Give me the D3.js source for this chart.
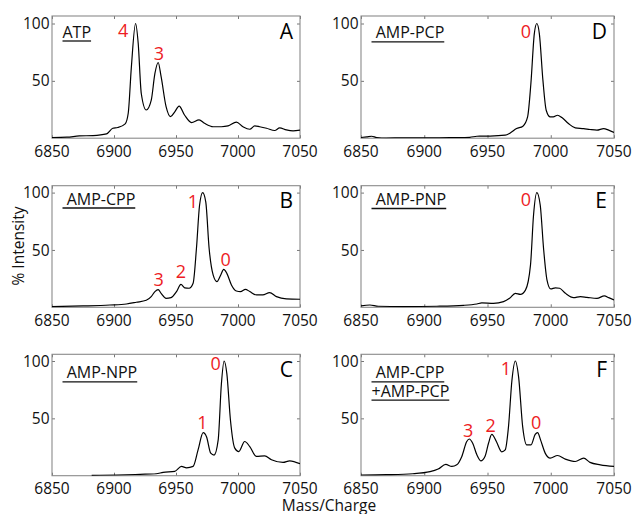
<!DOCTYPE html>
<html>
<head>
<meta charset="utf-8">
<script src="https://cdn.jsdelivr.net/npm/d3@7"></script>
<style>
  body { margin: 0; background: #fff; }
  svg { display: block; font-family: "Open Sans", sans-serif; }
</style>
</head>
<body>
<div id="chart"></div>
<script>
// spectra: [mass/charge, % intensity]
var atp = [[6850,0.6],[6862,0.9],[6872,2],[6883,2.3],[6894,3.8],[6899,8.7],[6903,9.3],[6909,12.5],[6911.5,22],
  [6914,62],[6917.4,100],[6919.5,83],[6922,39],[6926,24.6],[6930,33],[6933,56.5],[6935.6,66],[6938,53.6],[6942,27.5],
  [6945.6,18.8],[6949,23],[6952.5,28],[6957,20],[6962.5,13.6],[6968.6,16],[6973,13],[6980,10],[6986.6,10],[6992,10.7],
  [6998.7,14],[7004,10],[7009.5,7.8],[7013.5,10.7],[7017.5,10],[7023,8.7],[7029.6,6.7],[7033.6,9],[7039,7.2],[7044.4,6.4],[7050,7]];

var ampCPP = [[6850,0.6],[6875,1.2],[6896.7,2],[6910,2.9],[6918,4.4],[6926,6.1],[6930,9.3],[6933,13.7],[6935.6,15.4],
  [6938,12.2],[6942,7.8],[6946,8.4],[6950.4,13.7],[6954,20],[6957,17],[6960.6,16.6],[6963.8,21],[6966.5,51.5],[6969,89],
  [6971.5,100],[6974,92],[6976.7,51.5],[6980,28],[6983,22.4],[6986,28],[6988.5,33],[6991,29.6],[6994.7,19.5],[6998.7,14.2],
  [7002,13.7],[7006,15.7],[7009.5,13.7],[7015,10.8],[7020,10.8],[7025.5,12.8],[7031,9.3],[7039,7.3],[7050,7]];

var ampNPP = [[6882,0.3],[6902,0.6],[6921,1.2],[6934,1.7],[6939.6,2.9],[6949,3.8],[6954.4,8.1],[6958.5,6.9],[6963.8,8.1],
  [6967.8,22.5],[6971.9,37.6],[6974.6,34],[6978,19.7],[6980.7,18],[6984,31],[6986.6,80],[6988.8,100],[6991,89],[6993.9,48.6],
  [6997.4,24],[7000.6,21],[7005.4,29.8],[7009.5,25.4],[7014.8,16.8],[7021.5,17.3],[7027,13.9],[7036.3,11.6],[7041.7,13],[7050,10.4]];

var ampPCP = [[6850,0.6],[6854.5,1.2],[6858.4,1.7],[6862.4,0.6],[6870,0.1],[6883.5,0.3],[6896.7,0.3],[6910,0.3],[6923,0.5],
  [6936,0.8],[6941.6,1.7],[6952,1.8],[6964,2.6],[6968,4.6],[6973,8.4],[6978,10.5],[6981.7,18.6],[6984.3,47.7],[6987,91],
  [6989,100],[6991,91],[6993.8,50.6],[6996.4,24.4],[6999.6,18.6],[7002,18.6],[7005.4,20],[7008.8,18],[7014,12.8],[7019.4,9],
  [7026,8.4],[7031,7.6],[7036.5,7],[7041.8,8.4],[7045.8,7],[7050,5]];

var ampPNP = [[6850,1.2],[6857,2],[6863.7,0.9],[6883.5,0.6],[6910,0.9],[6931,1.7],[6941.6,2.9],[6945.5,3.8],[6954.7,3.5],
  [6962.7,5],[6967.4,7.8],[6972,12.2],[6976,11.3],[6980,15],[6984,37],[6986.4,80.5],[6989,100],[6991.7,89],[6994.3,51.5],
  [6997,24],[7000,16],[7003.6,17],[7007,16.6],[7011.6,12.2],[7018,8.4],[7023.4,9.3],[7028.6,8.7],[7036.5,7.8],[7042.4,10],
  [7045.8,8.4],[7050,6.4]];

var ampMix = [[6850,0.6],[6870,0.9],[6891,1.7],[6904.6,3.5],[6911,5.8],[6917,9.8],[6921.8,8.1],[6925.7,9.5],[6929.7,16.8],
  [6933.6,29.8],[6935.6,32],[6938.3,28.3],[6941.6,18.2],[6944.7,13],[6948,16.8],[6950.8,28.3],[6953.4,36],[6957,29.8],
  [6961.3,20.8],[6964,22.5],[6966.6,42.8],[6969.3,83],[6972,100],[6974.6,86],[6977.8,42.8],[6981,26.9],[6984.4,26.9],
  [6987.7,36],[6989.6,37.6],[6992,31],[6995.6,19.7],[6999.6,15.3],[7005.4,17.6],[7011.5,14.5],[7019.4,12.4],[7026,15.3],
  [7031,11.6],[7039.2,9.5],[7050,8.1]];

// red peak numbers: [text, mass, intensity at baseline]
var peaksA = [["4",6907.3,88],["3",6936.3,68]];
var peaksB = [["3",6936,18.9],["2",6954,25.3],["1",6963.7,87],["0",6990,36.3]];
var peaksC = [["1",6971.2,40.3],["0",6982,92]];
var peaksD = [["0",6980.4,87]];
var peaksE = [["0",6980.4,88]];
var peaksF = [["3",6934.8,34],["2",6952.5,38.3],["1",6964.6,87.6],["0",6988.5,40.3]];

var panelLetters = ["A","B","C","D","E","F"];
var panelTitles = [["ATP"],[" AMP-CPP"],[" AMP-NPP"],[" AMP-PCP"],[" AMP-PNP"],[" AMP-CPP","+AMP-PCP"]];
var xTicks = [6850, 6900, 6950, 7000, 7050];
var yTicks = [50, 100];

var W = 633, H = 514;
var svg = d3.select("#chart").append("svg").attr("width", W).attr("height", H);

var cols = [[52, 300], [361, 614]];
var rows = [[16, 138.2], [185.7, 307.3], [354.3, 475.7]];
var titleDy = [21.5, 18.8, 24, 22.3, 19.3, 24];

var panels = [
  {data: atp, peaks: peaksA, c: 0, r: 0},
  {data: ampCPP, peaks: peaksB, c: 0, r: 1},
  {data: ampNPP, peaks: peaksC, c: 0, r: 2},
  {data: ampPCP, peaks: peaksD, c: 1, r: 0},
  {data: ampPNP, peaks: peaksE, c: 1, r: 1},
  {data: ampMix, peaks: peaksF, c: 1, r: 2}
];

panels.forEach(function(p, i) {
  var x0 = cols[p.c][0], x1 = cols[p.c][1];
  var y0 = rows[p.r][0], y1 = rows[p.r][1];
  var pxPerUnit = 1.147;

  var x = d3.scaleLinear().domain([6850, 7050]).range([x0, x1]);
  var y = d3.scaleLinear().domain([0, (y1 - y0) / pxPerUnit]).range([y1, y0]);

  var g = svg.append("g").attr("class", "panel");

  g.append("clipPath").attr("id", "clip" + i)
    .append("rect").attr("x", x0).attr("y", y0).attr("width", x1 - x0).attr("height", y1 - y0);

  // mirrored inward ticks, no domain lines (frame drawn separately)
  var axes = [
    {ax: d3.axisBottom(x).tickValues(xTicks).tickSize(-3).tickFormat(""), tr: "translate(0," + y1 + ")"},
    {ax: d3.axisTop(x).tickValues(xTicks).tickSize(-3).tickFormat(""), tr: "translate(0," + y0 + ")"},
    {ax: d3.axisLeft(y).tickValues(yTicks).tickSize(-3).tickFormat(""), tr: "translate(" + x0 + ",0)"},
    {ax: d3.axisRight(y).tickValues(yTicks).tickSize(-3).tickFormat(""), tr: "translate(" + x1 + ",0)"}
  ];
  axes.forEach(function(a) {
    var s = g.append("g").attr("transform", a.tr).call(a.ax);
    s.select(".domain").remove();
    s.selectAll("line").attr("stroke", "#777").attr("stroke-width", 1);
  });

  g.append("rect")
    .attr("x", x0).attr("y", y0).attr("width", x1 - x0).attr("height", y1 - y0)
    .attr("fill", "none").attr("stroke", "#8a8a8a").attr("stroke-width", 1.1);

  // tick labels
  g.selectAll(".xl").data(xTicks).enter().append("text")
    .attr("x", function(d) { return x(d); })
    .attr("y", y1 + 18.5)
    .attr("text-anchor", "middle")
    .attr("font-size", 15.5)
    .attr("fill", "#111")
    .text(function(d) { return d; });

  g.selectAll(".yl").data(yTicks).enter().append("text")
    .attr("x", x0 - 2.5)
    .attr("y", function(d) { return y(d); })
    .attr("dy", "0.36em")
    .attr("text-anchor", "end")
    .attr("font-size", 15.5)
    .attr("fill", "#111")
    .text(function(d) { return d; });

  var line = d3.line()
    .x(function(d) { return x(d[0]); })
    .y(function(d) { return y(d[1]); })
    .curve(d3.curveMonotoneX);

  g.append("path")
    .datum(p.data)
    .attr("clip-path", "url(#clip" + i + ")")
    .attr("fill", "none")
    .attr("stroke", "#000")
    .attr("stroke-width", 1.2)
    .attr("d", line);

  g.selectAll(".pk").data(p.peaks).enter().append("text")
    .attr("x", function(d) { return x(d[1]); })
    .attr("y", function(d) { return y(d[2]); })
    .attr("text-anchor", "middle")
    .attr("font-size", 18)
    .attr("fill", "#ed1c24")
    .text(function(d) { return d[0]; });

  g.append("text")
    .attr("x", x1 - 7)
    .attr("y", y0 + 22.5)
    .attr("text-anchor", "end")
    .attr("font-size", 21)
    .attr("fill", "#000")
    .text(panelLetters[i]);

  panelTitles[i].forEach(function(t, k) {
    var by = y0 + titleDy[i] + k * 18.4;
    var tx = g.append("text")
      .attr("x", x0 + 10.5)
      .attr("y", by)
      .attr("font-size", 16)
      .attr("fill", "#111")
      .style("white-space", "pre")
      .text(t.replace(/^ /, "\u00a0"));
    var len = tx.node().getComputedTextLength();
    g.append("line")
      .attr("x1", x0 + 10.5).attr("x2", x0 + 10.5 + len)
      .attr("y1", by + 3.5).attr("y2", by + 3.5)
      .attr("stroke", "#111").attr("stroke-width", 1.3);
  });
});

svg.append("text")
  .attr("transform", "translate(24,246) rotate(-90)")
  .attr("text-anchor", "middle")
  .attr("font-size", 15.5)
  .attr("fill", "#111")
  .text("% Intensity");

svg.append("text")
  .attr("x", 329)
  .attr("y", 511)
  .attr("text-anchor", "middle")
  .attr("font-size", 15.5)
  .attr("fill", "#111")
  .text("Mass/Charge");
</script>
</body>
</html>
